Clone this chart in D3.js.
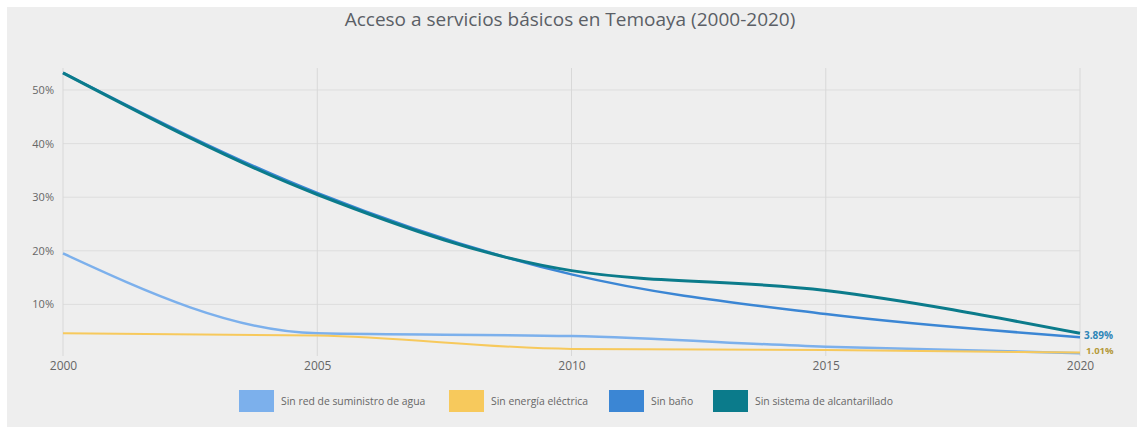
<!DOCTYPE html>
<html>
<head>
<meta charset="utf-8">
<script src="https://cdn.jsdelivr.net/npm/d3@7"></script>
<style>
  html, body { margin: 0; padding: 0; background: #fff; }
  svg { display: block; font-family: "Open Sans", "DejaVu Sans", sans-serif; }
</style>
</head>
<body>
<svg id="chart" width="1137" height="427"></svg>
<script>
// ----------------------------
// Data
// ----------------------------
const years = [2000, 2005, 2010, 2015, 2020];
const seriesNames = [
  "Sin red de suministro de agua",
  "Sin energía eléctrica",
  "Sin baño",
  "Sin sistema de alcantarillado"
];
const seriesColors = ["#7cb0ec", "#f7c95c", "#3b86d4", "#0b7b8b"];
const agua = [19.5, 4.6, 4.1, 2.1, 0.9];
const energia = [4.6, 4.2, 1.7, 1.5, 1.01];
const bano = [53.2, 30.8, 15.6, 8.2, 3.89];
const alcantarillado = [53.2, 30.5, 16.3, 12.6, 4.6];
const yTicks = [10, 20, 30, 40, 50];
const endLabels = ["3.89%", "1.01%"];

const seriesValues = [agua, energia, bano, alcantarillado];
const strokeWidths = [2.5, 2, 2.5, 3];

// ----------------------------
// Layout
// ----------------------------
const svg = d3.select("#chart");
const width = +svg.attr("width");
const height = +svg.attr("height");

svg.append("rect")
  .attr("x", 7).attr("y", 7)
  .attr("width", width - 7).attr("height", height - 7)
  .attr("fill", "#eeeeee");

const xScale = d3.scaleLinear().domain([2000, 2020]).range([63, 1080]);
const yScale = d3.scaleLinear().domain([0, 50]).range([358, 90]);
const plotTop = yScale(54.1);
const plotBottom = yScale(0) - 2;

// title
svg.append("text")
  .attr("x", 570).attr("y", 26)
  .attr("text-anchor", "middle")
  .attr("font-size", 19)
  .attr("fill", "#5b5f66")
  .text("Acceso a servicios básicos en Temoaya (2000-2020)");

// grid
const g = svg.append("g");
g.selectAll(".hgrid")
  .data(yTicks)
  .join("line")
  .attr("x1", xScale(2000)).attr("x2", xScale(2020))
  .attr("y1", d => yScale(d)).attr("y2", d => yScale(d))
  .attr("stroke", "#dddddd").attr("stroke-width", 1);

g.selectAll(".vgrid")
  .data(years)
  .join("line")
  .attr("x1", d => xScale(d)).attr("x2", d => xScale(d))
  .attr("y1", plotTop).attr("y2", plotBottom)
  .attr("stroke", "#d8d8d8").attr("stroke-width", 1);

// axes (labels only)
const yAxis = svg.append("g")
  .attr("transform", `translate(${xScale(2000) - 6},0)`)
  .call(d3.axisLeft(yScale).tickValues(yTicks).tickFormat(d => d + "%").tickSize(0));
yAxis.select(".domain").remove();
yAxis.selectAll("text")
  .attr("font-size", 11).attr("fill", "#666").attr("font-family", "Open Sans, sans-serif");

const xAxis = svg.append("g")
  .attr("transform", `translate(0,${plotBottom + 4})`)
  .call(d3.axisBottom(xScale).tickValues(years).tickFormat(d3.format("d")).tickSize(0));
xAxis.select(".domain").remove();
xAxis.selectAll("text")
  .attr("dy", "0.55em")
  .attr("font-size", 12).attr("fill", "#666").attr("font-family", "Open Sans, sans-serif");

// ----------------------------
// Lines
// ----------------------------
const line = d3.line()
  .x((d, i) => xScale(years[i]))
  .y(d => yScale(d))
  .curve(d3.curveMonotoneX);

seriesValues.forEach((vals, k) => {
  svg.append("path")
    .datum(vals)
    .attr("fill", "none")
    .attr("stroke", seriesColors[k])
    .attr("stroke-width", strokeWidths[k])
    .attr("stroke-linejoin", "round")
    .attr("d", line);
});

// end labels
svg.append("text")
  .attr("x", xScale(2020) + 4).attr("y", yScale(bano[4]) - 2)
  .attr("dy", "0.35em")
  .attr("font-size", 10).attr("font-weight", "bold")
  .attr("fill", "#2f86b8")
  .text(endLabels[0]);
svg.append("text")
  .attr("x", xScale(2020) + 6).attr("y", yScale(energia[4]) - 2)
  .attr("dy", "0.35em")
  .attr("font-size", 9.5).attr("font-weight", "bold")
  .attr("fill", "#b59a3a")
  .text(endLabels[1]);

// ----------------------------
// Legend
// ----------------------------
const legendX = [239, 449, 609, 713];
const legend = svg.append("g");
seriesNames.forEach((name, k) => {
  legend.append("rect")
    .attr("x", legendX[k]).attr("y", 390)
    .attr("width", 35).attr("height", 22)
    .attr("fill", seriesColors[k]);
  legend.append("text")
    .attr("x", legendX[k] + 42).attr("y", 401)
    .attr("dy", "0.35em")
    .attr("font-size", 10.4)
    .attr("fill", "#666")
    .text(name);
});
</script>
</body>
</html>
